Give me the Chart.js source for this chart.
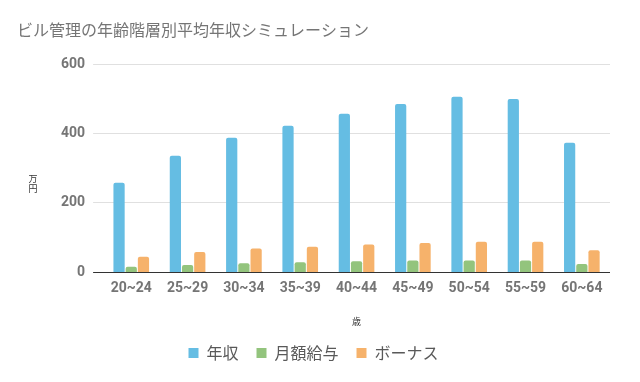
<!DOCTYPE html>
<html lang="ja">
<head>
<meta charset="utf-8">
<title>ビル管理の年齢階層別平均年収シミュレーション</title>
<script src="https://cdn.jsdelivr.net/npm/chart.js@4.4.1/dist/chart.umd.min.js"></script>
<style>
  html, body { margin: 0; padding: 0; background: #fff; }
  #wrap { width: 640px; height: 382px; position: relative; }
</style>
</head>
<body>
<div id="wrap"><canvas id="chart"></canvas></div>
<script>
  // Age brackets and values (万円)
  const AGES = ['20~24', '25~29', '30~34', '35~39', '40~44', '45~49', '50~54', '55~59', '60~64'];
  const NENSHU = [258, 336, 388, 422, 457, 485, 506, 499, 373];
  const GEPPO = [16, 21, 26, 29, 32, 34, 34, 34, 24];
  const BONUS = [45, 59, 69, 74, 80, 85, 88, 88, 64];
  const Y_TICKS = [0, 200, 400, 600];

  const TITLE = 'ビル管理の年齢階層別平均年収シミュレーション';
  const JP_FONT = '"Noto Sans CJK JP", "Noto Sans", sans-serif';
  const NUM_FONT = 'Roboto, "Noto Sans", sans-serif';

  // title at the top left and the vertical "万円" unit label
  const extraText = {
    id: 'extraText',
    afterDraw(chart) {
      const ctx = chart.ctx;
      const mid = (chart.chartArea.top + chart.chartArea.bottom) / 2;
      ctx.save();
      ctx.font = '16px ' + JP_FONT;
      ctx.fillStyle = '#757575';
      ctx.textAlign = 'left';
      ctx.textBaseline = 'middle';
      ctx.fillText(TITLE, 17, 30);

      ctx.font = '9px ' + JP_FONT;
      ctx.fillStyle = '#333';
      ctx.textAlign = 'center';
      ctx.fillText('万', 33, mid + 10);
      ctx.fillText('円', 33, mid + 20);
      ctx.restore();
    }
  };

  const bar = (label, data, color) => ({
    label,
    data,
    backgroundColor: color,
    borderWidth: 0,
    borderRadius: 2,
    barPercentage: 0.92,
    categoryPercentage: 0.65
  });

  new Chart(document.getElementById('chart'), {
    type: 'bar',
    data: {
      labels: AGES,
      datasets: [
        bar('年収', NENSHU, '#65BDE3'),
        bar('月額給与', GEPPO, '#93C47D'),
        bar('ボーナス', BONUS, '#F6B26B')
      ]
    },
    options: {
      responsive: true,
      maintainAspectRatio: false,
      animation: false,
      layout: { padding: { left: 17, right: 30, top: 64, bottom: 11 } },
      plugins: {
        title: { display: false },
        legend: {
          position: 'bottom',
          labels: {
            color: '#595959',
            font: { family: JP_FONT, size: 16 },
            boxWidth: 10,
            boxHeight: 10,
            padding: 18
          }
        },
        tooltip: { enabled: false }
      },
      scales: {
        x: {
          grid: { display: false, drawTicks: false },
          border: { display: false },
          ticks: {
            color: '#757575',
            font: { family: NUM_FONT, size: 14, weight: 'bold' },
            padding: 8,
            maxRotation: 0
          },
          title: {
            display: true,
            text: '歳',
            color: '#333',
            font: { family: JP_FONT, size: 9 },
            padding: { top: 11, bottom: 0 }
          }
        },
        y: {
          min: 0,
          max: 600,
          afterBuildTicks: (axis) => { axis.ticks = Y_TICKS.map(v => ({ value: v })); },
          // leave room for the 万円 label on the left
          afterFit: (axis) => { axis.width += 36; },
          grid: {
            color: (c) => (c.tick && c.tick.value === 0 ? '#333' : '#E0E0E0'),
            lineWidth: 1,
            drawTicks: true,
            tickLength: 10
          },
          border: { display: false },
          ticks: {
            color: '#757575',
            font: { family: NUM_FONT, size: 14, weight: 'bold' },
            padding: 8
          }
        }
      }
    },
    plugins: [extraText]
  });
</script>
</body>
</html>
